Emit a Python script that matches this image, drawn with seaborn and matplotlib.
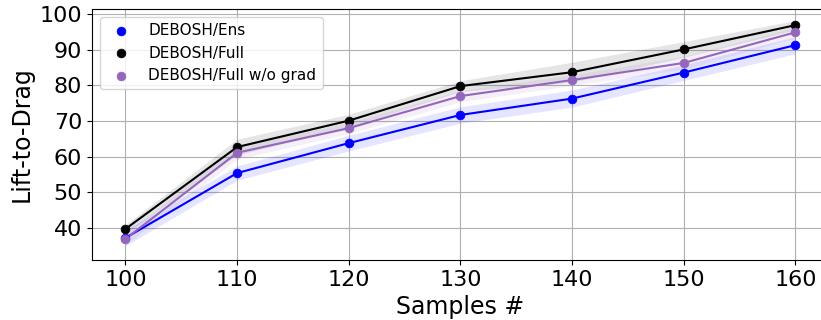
import numpy as np
import pandas as pd
import seaborn as sns
import matplotlib.pyplot as plt

samples = [100, 110, 120, 130, 140, 150, 160]
ens_mean = [37.2, 55.4, 63.8, 71.7, 76.3, 83.6, 91.3]
ens_std = [2.2, 2.0, 2.2, 2.3, 2.4, 2.2, 2.4]
full_mean = [39.7, 62.7, 70.1, 79.8, 83.7, 90.1, 96.9]
full_std = [1.2, 2.2, 1.8, 1.5, 2.8, 2.2, 1.3]
nograd_mean = [36.9, 61.1, 68.0, 77.0, 81.5, 86.3, 94.9]
nograd_std = [1.6, 1.8, 1.5, 1.6, 1.5, 1.8, 1.5]

series = [("DEBOSH/Ens", ens_mean, ens_std, "blue", 0.1),
          ("DEBOSH/Full", full_mean, full_std, "black", 0.1),
          ("DEBOSH/Full w/o grad", nograd_mean, nograd_std, "tab:purple", 0.1)]

sns.set_style("ticks")
plt.rcParams.update({"text.color": "black", "axes.labelcolor": "black",
                     "xtick.color": "black", "ytick.color": "black",
                     "axes.edgecolor": "black"})
fig = plt.figure(figsize=(8.21, 3.2), dpi=100)
ax = fig.add_axes([0.112, 0.1875, 0.8977, 0.784])

for name, m, s, c, a in series:
    df = pd.DataFrame({"x": samples, "y": m})
    lo = np.array(m) - np.array(s)
    hi = np.array(m) + np.array(s)
    ax.fill_between(samples, lo, hi, color=c, alpha=a, linewidth=0)
    sns.lineplot(data=df, x="x", y="y", color=c, linewidth=1.5, ax=ax, legend=False)
    sns.scatterplot(data=df, x="x", y="y", color=c, s=40, edgecolor=c, ax=ax, label=name, zorder=3)

ax.set_xlim(97, 163)
ax.set_ylim(31, 101.4)
ax.set_yticks([40, 50, 60, 70, 80, 90, 100])
ax.grid(True, color="#b0b0b0", linewidth=0.8)
ax.tick_params(labelsize=16)
ax.set_xlabel("Samples #", fontsize=17)
ax.set_ylabel("Lift-to-Drag", fontsize=17)
ax.legend(loc="upper left", fontsize=11, frameon=True)

fig.savefig("out.png", dpi=100)
